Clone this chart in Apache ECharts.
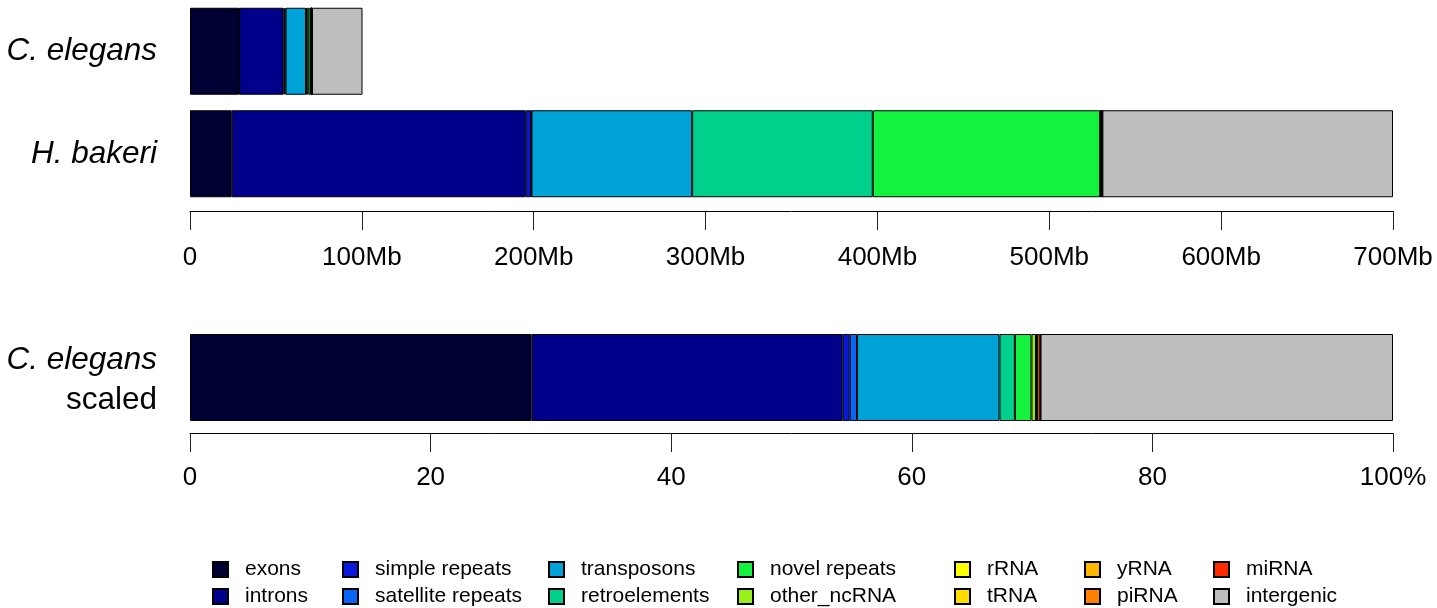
<!DOCTYPE html>
<html>
<head>
<meta charset="utf-8">
<script src="https://cdn.jsdelivr.net/npm/echarts@6/dist/echarts.min.js"></script>
<style>
html,body{margin:0;padding:0;background:#fff;}
#chart{width:1437px;height:608px;}
</style>
</head>
<body>
<div id="chart"></div>
<script>
// ---- data ----
var categories = ['C. elegans', 'H. bakeri'];
var classes = ['exons', 'introns', 'simple repeats', 'satellite repeats', 'transposons',
  'retroelements', 'novel repeats', 'other_ncRNA', 'rRNA', 'tRNA', 'yRNA', 'piRNA',
  'miRNA', 'intergenic'];
var colors = ['#000033', '#00008B', '#0A18DE', '#0A64F5', '#00A3D8', '#00D08C',
  '#13F23F', '#96F01A', '#FFFF00', '#FFDD00', '#FFB800', '#FF7F00', '#FF2A00', '#BEBEBE'];
// genome composition in Mb
var celegansMb = [28.5, 25.9, 0.6, 0.6, 11.9, 1.3, 1.4, 0.4, 0.05, 0.05, 0.01, 0.25, 0.02, 29.4];
var hbakeriMb  = [24.3, 171.1, 3.0, 0.3, 93.5, 105.1, 132.3, 0.3, 0.2, 0.3, 0.1, 0.3, 0.1, 169.1];
// C. elegans composition in percent
var celegansPct = [28.4, 25.86, 0.58, 0.61, 11.84, 1.28, 1.38, 0.37, 0.05, 0.05, 0.01, 0.25, 0.02, 29.30];
var mbTicks = [0, 100, 200, 300, 400, 500, 600, 700];
var pctTicks = [0, 20, 40, 60, 80, 100];
var legendColumns = [['exons', 'introns'], ['simple repeats', 'satellite repeats'],
  ['transposons', 'retroelements'], ['novel repeats', 'other_ncRNA'], ['rRNA', 'tRNA'],
  ['yRNA', 'piRNA'], ['miRNA', 'intergenic']];
var legendLeft = [207, 337, 543, 732, 949, 1079, 1208];
var legendRowTop = [554, 581];

var FONT = '"Liberation Sans", Arial, Helvetica, sans-serif';

var series = [];
classes.forEach(function (c, i) {
  series.push({
    name: c, type: 'bar', stack: 'mb', xAxisIndex: 0, yAxisIndex: 0,
    barWidth: 87,
    data: [celegansMb[i], hbakeriMb[i]],
    itemStyle: { color: colors[i], borderColor: '#000', borderWidth: 1 },
    emphasis: { disabled: true }
  });
});
classes.forEach(function (c, i) {
  series.push({
    name: c, type: 'bar', stack: 'pct', xAxisIndex: 1, yAxisIndex: 1,
    barWidth: 87,
    data: [celegansPct[i]],
    itemStyle: { color: colors[i], borderColor: '#000', borderWidth: 1 },
    emphasis: { disabled: true }
  });
});

var legends = [];
legendColumns.forEach(function (col, k) {
  col.forEach(function (name, r) {
    legends.push({
      left: legendLeft[k], top: legendRowTop[r],
      data: [name], itemWidth: 15, itemHeight: 15, icon: 'rect',
      selectedMode: false,
      textStyle: { fontSize: 21, color: '#000', fontFamily: FONT, lineHeight: 21, padding: [0, 0, 0, 12] }
    });
  });
});

function axisCommon(ticks, fmt, offset, margin) {
  return {
    type: 'value', min: ticks[0], max: ticks[ticks.length - 1],
    interval: ticks[1] - ticks[0], offset: offset,
    axisLine: { show: true, lineStyle: { color: '#000', width: 1 } },
    axisTick: { show: true, length: 19, lineStyle: { color: '#222', width: 1 } },
    splitLine: { show: false },
    axisLabel: { fontSize: 26, color: '#000', fontFamily: FONT, margin: margin, formatter: fmt }
  };
}

var option = {
  animation: false,
  backgroundColor: '#fff',
  grid: [
    { left: 190, width: 1203, top: 0, height: 205 },
    { left: 190, width: 1203, top: 334, height: 87 }
  ],
  xAxis: [
    Object.assign(axisCommon(mbTicks, function (v) { return v === 0 ? '0' : v + 'Mb'; }, 6, 34), { gridIndex: 0 }),
    Object.assign(axisCommon(pctTicks, function (v) { return v === 100 ? '100%' : String(v); }, 12, 32), { gridIndex: 1 })
  ],
  yAxis: [
    {
      type: 'category', gridIndex: 0, data: categories, inverse: true,
      axisLine: { show: false }, axisTick: { show: false },
      axisLabel: { fontSize: 31.5, fontStyle: 'italic', color: '#000', fontFamily: FONT, margin: 33 }
    },
    {
      type: 'category', gridIndex: 1, data: ['C. elegans scaled'],
      axisLine: { show: false }, axisTick: { show: false },
      axisLabel: {
        margin: 33, color: '#000', padding: [6, 0, 0, 0],
        formatter: function () { return '{i|C. elegans}\n{n|scaled}'; },
        rich: {
          i: { fontSize: 31.5, fontStyle: 'italic', fontFamily: FONT, color: '#000', lineHeight: 40, align: 'right' },
          n: { fontSize: 31.5, fontFamily: FONT, color: '#000', lineHeight: 40, align: 'right' }
        }
      }
    }
  ],
  legend: legends,
  series: series
};

var chart = echarts.init(document.getElementById('chart'), null, { renderer: 'canvas' });
chart.setOption(option);
</script>
</body>
</html>
